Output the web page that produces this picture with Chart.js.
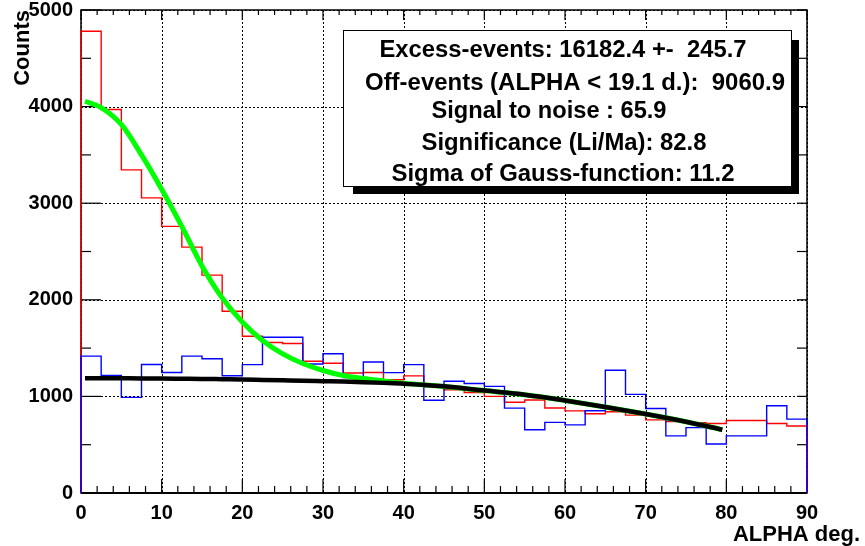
<!DOCTYPE html>
<html><head><meta charset="utf-8">
<script src="https://cdn.jsdelivr.net/npm/chart.js@4/dist/chart.umd.min.js"></script>
<style>html,body{margin:0;padding:0;background:#fff;overflow:hidden}#wrap{width:865px;height:546px;position:relative}</style>
</head><body><div id="wrap"><canvas id="c" width="865" height="546"></canvas></div>
<script>
// ---- data ----
const binEdges = [0,2.5,5,7.5,10,12.5,15,17.5,20,22.5,25,27.5,30,32.5,35,37.5,40,42.5,45,47.5,50,52.5,55,57.5,60,62.5,65,67.5,70,72.5,75,77.5,80,82.5,85,87.5,90];
const onCounts = [4780,3970,3345,3055,2760,2545,2255,1882,1622,1558,1547,1364,1343,1243,1247,1172,1212,1100,1069,1040,1000,940,962,880,850,820,841,806,757,740,729,719,750,750,719,694];
const offCounts = [1417,1216,990,1330,1247,1417,1389,1214,1329,1613,1613,1336,1441,1196,1356,1246,1329,960,1157,1133,1104,879,655,731,705,851,1271,1021,875,591,677,507,591,591,903,765];
const fitAlpha = [0.5,2.5,5,7.5,10,12.5,15,17.5,20,22.5,25,27.5,30,32.5,35,37.5,40,45,50,55,60,65,70,75,79.5];
const gaussFit = [4055,3990,3815,3500,3145,2760,2350,2020,1770,1578,1440,1340,1268,1216,1185,1160,1136,1102,1060,1018,958,890,818,738,655];
const bgFit    = [1188,1188,1187,1186,1185,1183,1181,1178,1175,1171,1167,1163,1158,1153,1147,1140,1132,1104,1060,1018,958,890,818,738,655];
const xTickValues = [0,10,20,30,40,50,60,70,80,90];
const yTickValues = [0,1000,2000,3000,4000,5000];
const statsLines = [
  'Excess-events: 16182.4 +-  245.7',
  'Off-events (ALPHA < 19.1 d.):  9060.9',
  'Signal to noise : 65.9',
  'Significance (Li/Ma): 82.8',
  'Sigma of Gauss-function: 11.2'
];
const xTitle = 'ALPHA deg.';
const yTitle = 'Counts';

// ---- helpers ----
const tickFont = {family:"'Liberation Sans', Arial, sans-serif", size:20, weight:'bold'};
function histPoints(edges, counts){
  const pts=[{x:edges[0],y:0}];
  counts.forEach((v,i)=>pts.push({x:edges[i],y:v}));
  pts.push({x:edges[edges.length-1],y:0});
  return pts;
}
function zip(xs,ys){return xs.map((x,i)=>({x:x,y:ys[i]}));}

const frameGrid = {
  id:'frameGrid',
  beforeDatasetsDraw(chart){
    const ctx=chart.ctx, a=chart.chartArea, xs=chart.scales.x, ys=chart.scales.y;
    ctx.save();
    ctx.strokeStyle='#000'; ctx.lineWidth=1; ctx.setLineDash([2,2]);
    xTickValues.forEach(v=>{const px=Math.round(xs.getPixelForValue(v))+0.5; ctx.beginPath(); ctx.moveTo(px,a.top); ctx.lineTo(px,a.bottom); ctx.stroke();});
    yTickValues.forEach(v=>{const py=Math.round(ys.getPixelForValue(v))+0.5; ctx.beginPath(); ctx.moveTo(a.left,py); ctx.lineTo(a.right,py); ctx.stroke();});
    ctx.setLineDash([]);
    ctx.lineWidth=1.2;
    for(let v=0; v<=90; v+=2){
      const px=xs.getPixelForValue(v), major=(v%10===0);
      ctx.beginPath(); ctx.moveTo(px,a.bottom); ctx.lineTo(px,a.bottom-(major?14:7)); ctx.stroke();
      ctx.beginPath(); ctx.moveTo(px,a.top); ctx.lineTo(px,a.top+(major?10:5)); ctx.stroke();
    }
    for(let v=0; v<=5000; v+=500){
      const py=ys.getPixelForValue(v), major=(v%1000===0);
      ctx.beginPath(); ctx.moveTo(a.left,py); ctx.lineTo(a.left+(major?20:10),py); ctx.stroke();
      ctx.beginPath(); ctx.moveTo(a.right,py); ctx.lineTo(a.right-10,py); ctx.stroke();
    }
    ctx.lineWidth=1.5;
    ctx.strokeRect(a.left,a.top,a.right-a.left,a.bottom-a.top);
    ctx.lineWidth=2;
    ctx.beginPath(); ctx.moveTo(a.left,a.bottom); ctx.lineTo(a.right,a.bottom); ctx.stroke();
    ctx.restore();
  },
  afterDraw(chart){
    const ctx=chart.ctx;
    ctx.save();
    ctx.fillStyle='#000';
    ctx.fillRect(792,40,7,154);
    ctx.fillRect(353,187,446,7);
    ctx.fillStyle='#fff';
    ctx.fillRect(343,30,449,157);
    ctx.strokeStyle='#000'; ctx.lineWidth=1;
    ctx.strokeRect(343.5,30.5,448,156);
    ctx.fillStyle='#000';
    ctx.font="bold 23px 'Liberation Sans', Arial, sans-serif";
    ctx.textBaseline='alphabetic';
    const centers=[563,575,549,564,563], widths=[367,420,235,285,343], bases=[57,90,118,150,180.5];
    statsLines.forEach((t,i)=>{
      const w=ctx.measureText(t).width, s=widths[i]/w;
      ctx.save(); ctx.translate(centers[i],bases[i]); ctx.scale(s,1);
      ctx.textAlign='center'; ctx.fillText(t,0,0); ctx.restore();
    });
    ctx.font="bold 22px 'Liberation Sans', Arial, sans-serif";
    ctx.textAlign='right'; ctx.fillText(xTitle,860,541);
    ctx.save(); ctx.translate(28.5,10); ctx.rotate(-Math.PI/2);
    ctx.textAlign='right'; ctx.fillText(yTitle,0,0); ctx.restore();
    ctx.restore();
  }
};

new Chart(document.getElementById('c'),{
  type:'line',
  data:{datasets:[
    {label:'background fit',data:zip(fitAlpha,bgFit),borderColor:'#000000',borderWidth:4.5,pointRadius:0,cubicInterpolationMode:'monotone',order:1,clip:4},
    {label:'gauss fit',data:zip(fitAlpha,gaussFit),borderColor:'#00ff00',borderWidth:5,pointRadius:0,cubicInterpolationMode:'monotone',order:2,clip:4},
    {label:'off',data:histPoints(binEdges,offCounts),borderColor:'#0000ff',borderWidth:1.4,pointRadius:0,stepped:true,order:3,clip:4},
    {label:'on',data:histPoints(binEdges,onCounts),borderColor:'#ff0000',borderWidth:1.4,pointRadius:0,stepped:true,order:4,clip:4}
  ]},
  options:{
    responsive:false, animation:false, devicePixelRatio:1,
    layout:{padding:{left:0,right:58,top:10,bottom:0}},
    plugins:{legend:{display:false},tooltip:{enabled:false}},
    scales:{
      x:{type:'linear',min:0,max:90,
        afterBuildTicks:s=>{s.ticks=xTickValues.map(v=>({value:v}));},
        ticks:{font:tickFont,color:'#000',padding:8,maxRotation:0,autoSkip:false,callback:v=>String(v)},
        grid:{display:false,drawTicks:false},border:{display:false},
        afterFit:s=>{s.height=53;s.paddingLeft=0;s.paddingRight=0;}},
      y:{type:'linear',min:0,max:5000,
        afterBuildTicks:s=>{s.ticks=yTickValues.map(v=>({value:v}));},
        ticks:{font:tickFont,color:'#000',padding:8,autoSkip:false,callback:v=>String(v)},
        grid:{display:false,drawTicks:false},border:{display:false},
        afterFit:s=>{s.width=81;s.paddingTop=0;s.paddingBottom=0;}}
    }
  },
  plugins:[frameGrid]
});
</script></body></html>
